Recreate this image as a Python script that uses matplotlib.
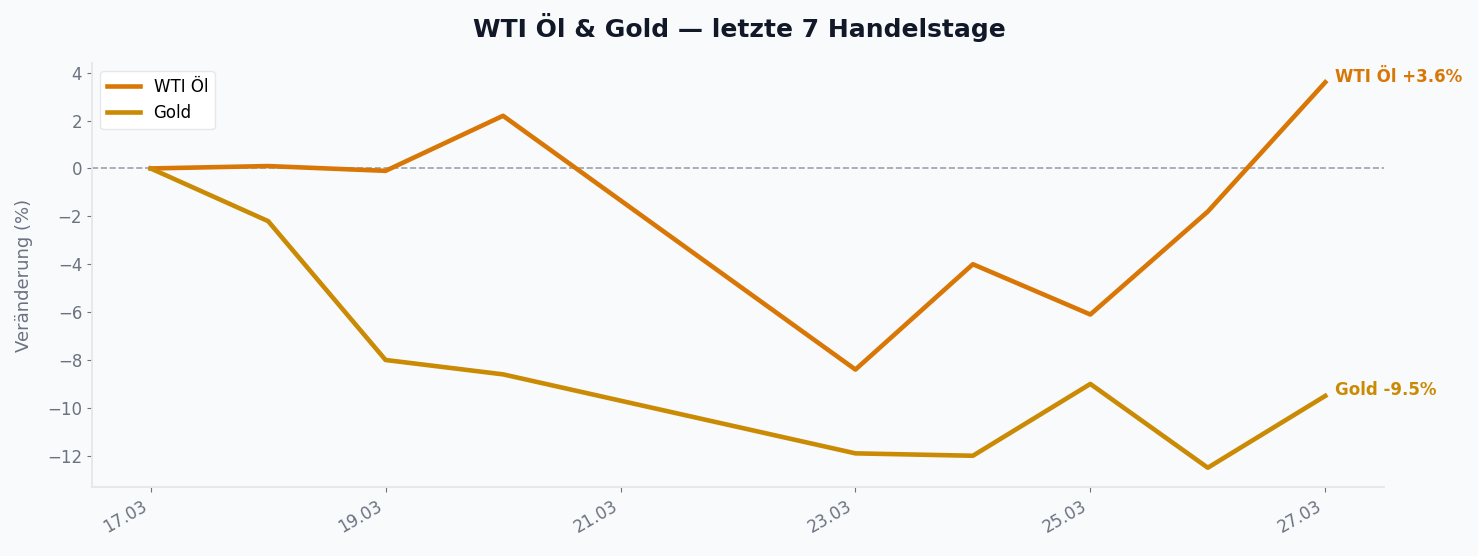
import matplotlib.pyplot as plt
import matplotlib.dates as mdates
import numpy as np
import pandas as pd

dates = pd.to_datetime(["2025-03-17", "2025-03-18", "2025-03-19", "2025-03-20",
                        "2025-03-23", "2025-03-24", "2025-03-25", "2025-03-26", "2025-03-27"])
wti = [0.0, 0.1, -0.1, 2.2, -8.4, -4.0, -6.1, -1.8, 3.6]
gold = [0.0, -2.2, -8.0, -8.6, -11.9, -12.0, -9.0, -12.5, -9.5]

c_wti = "#d97706"
c_gold = "#ca8a04"
bg = "#f8fafc"
grey = "#6b7280"

fig = plt.figure(figsize=(14.78, 5.56), dpi=100, facecolor=bg)
ax = fig.add_axes([0.0622, 0.1241, 0.8742, 0.7626], facecolor=bg)

ax.plot(dates, wti, color=c_wti, lw=3.3, label="WTI Öl")
ax.plot(dates, gold, color=c_gold, lw=3.3, label="Gold")
ax.axhline(0, color="#9ca3af", lw=1.2, ls="--", zorder=0)

ax.annotate(f"WTI Öl +{wti[-1]:.1f}%", (dates[-1], wti[-1]), xytext=(7, 4),
            textcoords="offset points", color=c_wti, fontsize=12, fontweight="bold", va="center")
ax.annotate(f"Gold {gold[-1]:.1f}%", (dates[-1], gold[-1]), xytext=(7, 4),
            textcoords="offset points", color=c_gold, fontsize=12, fontweight="bold", va="center")

ax.xaxis.set_major_locator(mdates.DayLocator(interval=2))
ax.xaxis.set_major_formatter(mdates.DateFormatter("%d.%m"))
plt.setp(ax.get_xticklabels(), rotation=30, ha="right")

ax.set_ylabel("Veränderung (%)", color=grey, fontsize=13, labelpad=10)
ax.tick_params(colors=grey, labelsize=12)
for s in ["top", "right"]:
    ax.spines[s].set_visible(False)
for s in ["left", "bottom"]:
    ax.spines[s].set_color("#e5e7eb")
    ax.spines[s].set_linewidth(1.3)

ax.legend(loc="upper left", fontsize=12, framealpha=1, edgecolor="#e5e7eb")
fig.suptitle("WTI Öl & Gold — letzte 7 Handelstage", fontsize=18, fontweight="bold",
             color="#111827", y=0.977)

fig.savefig("out.png", dpi=100, facecolor=bg)
